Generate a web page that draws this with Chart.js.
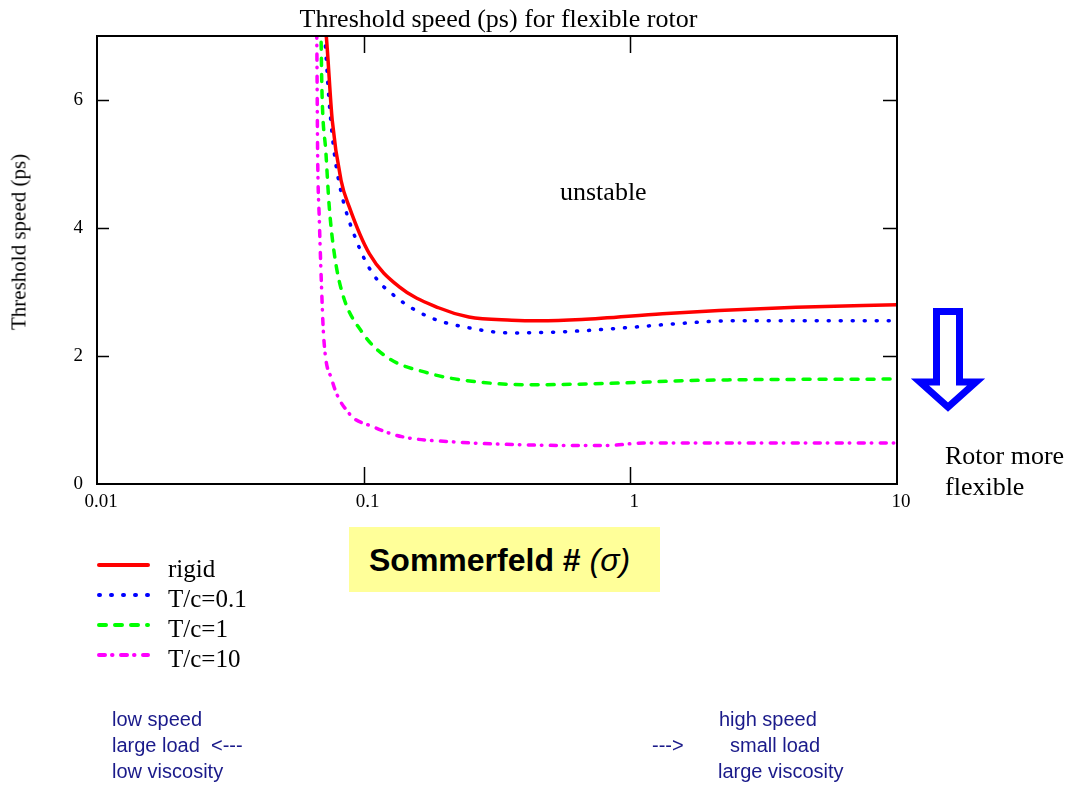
<!DOCTYPE html>
<html>
<head>
<meta charset="utf-8">
<script src="https://cdn.jsdelivr.net/npm/chart.js@4.4.1/dist/chart.umd.min.js"></script>
<style>
  html, body { margin: 0; padding: 0; background: #fff; }
  #wrap { position: relative; width: 1077px; height: 787px; overflow: hidden; }
  #wrap canvas { position: absolute; left: 0; top: 0; }
  .t { position: absolute; white-space: nowrap; font-family: "Liberation Serif", "Times New Roman", serif; color: #000; }
  .a { position: absolute; white-space: nowrap; font-family: "Liberation Sans", Arial, sans-serif; color: #1a1a8a; font-size: 20px; }
  #title { left: 0; width: 997px; text-align: center; top: 4px; font-size: 26px; }
  #ytitle { left: 19px; top: 242px; font-size: 21px; transform: translate(-50%, -50%) rotate(-90deg); }
  #unstable { left: 560px; top: 177px; font-size: 26px; }
  #flex { left: 945px; top: 440px; font-size: 26px; line-height: 31px; }
  #somm { position: absolute; left: 349px; top: 527px; width: 311px; height: 65px; background: #ffff99; }
  #somm span { position: absolute; left: 20px; top: 15px; font-family: "Liberation Sans", Arial, sans-serif; font-weight: bold; font-size: 32px; }
  #legend { position: absolute; left: 96px; top: 551px; }
  #legend .row { position: relative; height: 30px; }
  #legend svg { position: absolute; left: 0; top: 6px; }
  #legend .lab { position: absolute; left: 72px; top: 4px; font-family: "Liberation Serif", "Times New Roman", serif; font-size: 25px; }
</style>
</head>
<body>
<div id="wrap">
  <canvas id="chart" width="1077" height="787"></canvas>
  <div id="title" class="t">Threshold speed (ps) for flexible rotor</div>
  <div id="ytitle" class="t">Threshold speed (ps)</div>
  <div id="unstable" class="t">unstable</div>
  <svg style="position:absolute;left:910px;top:302px" width="80" height="116">
    <polygon points="26.5,9.5 49.5,9.5 49.5,80 66,80 38,105 10,80 26.5,80" fill="#fff" stroke="#0000ff" stroke-width="7" stroke-linejoin="miter"/>
  </svg>
  <div id="flex" class="t">Rotor more<br>flexible</div>
  <div id="somm"><span>Sommerfeld # <i style="font-weight:normal">(σ)</i></span></div>
  <div id="legend"></div>
  <div class="a" style="left:112px;top:708px">low speed</div>
  <div class="a" style="left:112px;top:734px">large load &nbsp;&lt;---</div>
  <div class="a" style="left:112px;top:760px">low viscosity</div>
  <div class="a" style="left:719px;top:708px">high speed</div>
  <div class="a" style="left:652px;top:734px">---&gt;</div>
  <div class="a" style="left:730px;top:734px">small load</div>
  <div class="a" style="left:718px;top:760px">large viscosity</div>
</div>
<script>
// Sommerfeld number (x) and threshold speed (y)
const rigidSigma = [0.0705, 0.0724, 0.0762, 0.0822, 0.0883, 0.105, 0.136, 0.192, 0.248, 0.359, 0.453, 0.656, 1.32, 2.15, 4.18, 10];
const rigidSpeed = [7.4, 7.0, 5.69, 4.75, 4.33, 3.6, 3.08, 2.75, 2.61, 2.56, 2.55, 2.57, 2.66, 2.71, 2.76, 2.8];

const tc01Sigma = [0.0700, 0.0714, 0.0743, 0.0776, 0.0824, 0.0938, 0.1076, 0.1323, 0.1758, 0.248, 0.359, 0.571, 0.950, 1.55, 2.39, 10];
const tc01Speed = [7.4, 7.0, 5.95, 5.17, 4.55, 3.81, 3.3, 2.92, 2.61, 2.44, 2.36, 2.38, 2.44, 2.51, 2.55, 2.55];

const tc1Sigma = [0.0685, 0.0692, 0.0697, 0.0722, 0.0743, 0.0776, 0.0832, 0.0987, 0.1224, 0.1758, 0.2294, 0.416, 0.80, 1.83, 10];
const tc1Speed = [7.4, 7.0, 6.2, 5.17, 4.33, 3.6, 2.98, 2.37, 1.98, 1.73, 1.63, 1.55, 1.57, 1.62, 1.64];

const tc10Sigma = [0.0664, 0.0667, 0.0672, 0.0682, 0.0695, 0.0708, 0.076, 0.0883, 0.1076, 0.139, 0.214, 0.416, 0.807, 1.12, 10];
const tc10Speed = [7.4, 7.0, 5.17, 4.12, 3.08, 2.3, 1.63, 1.1, 0.9, 0.74, 0.66, 0.61, 0.6, 0.64, 0.64];

const seriesNames = ['rigid', 'T/c=0.1', 'T/c=1', 'T/c=10'];
const xTicks = [0.01, 0.1, 1, 10];
const yTicks = [0, 2, 4, 6];

const styles = [
  { color: '#ff0000', dash: [] },
  { color: '#0000ff', dash: [1, 11] },
  { color: '#00ff00', dash: [7, 9] },
  { color: '#ff00ff', dash: [6, 7, 0.5, 8.5] }
];

function pts(xs, ys) {
  return xs.map((x, i) => ({ x: x, y: ys[i] }));
}

const allData = [
  pts(rigidSigma, rigidSpeed),
  pts(tc01Sigma, tc01Speed),
  pts(tc1Sigma, tc1Speed),
  pts(tc10Sigma, tc10Speed)
];

// inward tick marks and the frame, Mathcad style
const framePlugin = {
  id: 'frame',
  afterDraw(chart) {
    const ctx = chart.ctx;
    const a = chart.chartArea;
    const xs = chart.scales.x;
    const ys = chart.scales.y;
    ctx.save();
    ctx.strokeStyle = '#000';
    ctx.lineWidth = 1.5;
    xTicks.forEach(v => {
      const px = Math.round(xs.getPixelForValue(v)) + 0.5;
      if (px <= a.left + 2 || px >= a.right - 2) return;
      ctx.beginPath();
      ctx.moveTo(px, a.bottom); ctx.lineTo(px, a.bottom - 17);
      ctx.moveTo(px, a.top); ctx.lineTo(px, a.top + 17);
      ctx.stroke();
    });
    yTicks.forEach(v => {
      const py = Math.round(ys.getPixelForValue(v)) + 0.5;
      if (py <= a.top + 2 || py >= a.bottom - 2) return;
      ctx.beginPath();
      ctx.moveTo(a.left, py); ctx.lineTo(a.left + 12, py);
      ctx.moveTo(a.right, py); ctx.lineTo(a.right - 14, py);
      ctx.stroke();
    });
    ctx.lineWidth = 2;
    ctx.strokeRect(a.left, a.top, a.right - a.left, a.bottom - a.top);
    ctx.restore();
  }
};

const ctx = document.getElementById('chart').getContext('2d');
new Chart(ctx, {
  type: 'scatter',
  data: {
    datasets: allData.map((d, i) => ({
      label: seriesNames[i],
      data: d,
      showLine: true,
      borderColor: styles[i].color,
      backgroundColor: styles[i].color,
      borderWidth: 3.5,
      borderDash: styles[i].dash,
      borderCapStyle: 'round',
      borderJoinStyle: 'round',
      pointRadius: 0,
      cubicInterpolationMode: 'monotone'
    }))
  },
  options: {
    responsive: false,
    animation: false,
    layout: { padding: { left: 0, top: 36, right: 180, bottom: 0 } },
    plugins: {
      legend: { display: false },
      title: { display: false },
      tooltip: { enabled: false }
    },
    scales: {
      x: {
        type: 'logarithmic',
        min: 0.01,
        max: 10,
        grid: { display: false },
        border: { display: false },
        afterBuildTicks: s => { s.ticks = xTicks.map(v => ({ value: v })); },
        afterFit: s => { s.height = 303; },
        ticks: {
          autoSkip: false,
          maxRotation: 0,
          padding: -1,
          labelOffset: 4,
          color: '#000',
          font: { family: '"Liberation Serif", "Times New Roman", serif', size: 19 },
          callback: v => String(v)
        }
      },
      y: {
        type: 'linear',
        min: 0,
        max: 7,
        grid: { display: false },
        border: { display: false },
        afterBuildTicks: s => { s.ticks = yTicks.map(v => ({ value: v })); },
        afterFit: s => { s.width = 97; },
        ticks: {
          padding: 6,
          color: '#000',
          font: { family: '"Liberation Serif", "Times New Roman", serif', size: 19 },
          callback: v => String(v)
        }
      }
    }
  },
  plugins: [framePlugin]
});

// legend built from the same series names and styles
const legend = document.getElementById('legend');
seriesNames.forEach((name, i) => {
  const row = document.createElement('div');
  row.className = 'row';
  const dash = styles[i].dash.length ? styles[i].dash.join(',') : 'none';
  row.innerHTML =
    '<svg width="60" height="16"><line x1="3" y1="8" x2="52" y2="8" stroke="' + styles[i].color +
    '" stroke-width="4" stroke-dasharray="' + dash + '" stroke-linecap="round"/></svg>' +
    '<span class="lab">' + name + '</span>';
  legend.appendChild(row);
});
</script>
</body>
</html>
